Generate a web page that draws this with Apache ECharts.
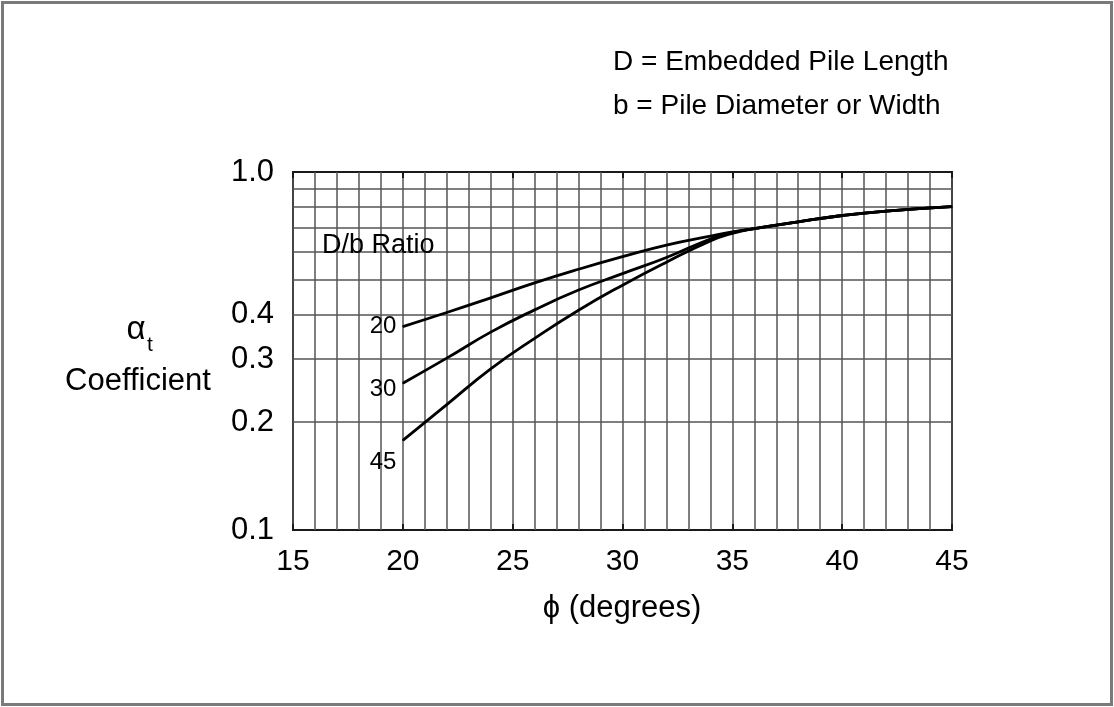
<!DOCTYPE html>
<html>
<head>
<meta charset="utf-8">
<title>Alpha_t coefficient vs friction angle</title>
<script src="https://cdn.jsdelivr.net/npm/echarts@6/dist/echarts.min.js"></script>
<style>
  html, body { margin: 0; padding: 0; background: #fff; }
  #chart { width: 1114px; height: 707px; }
</style>
</head>
<body>
<div id="chart"></div>
<script>
// Friction angle (degrees) at which each curve is sampled
const phiDeg = [20, 22, 24, 26, 28, 30, 32, 34, 35, 36, 38, 40, 42, 45];

// alpha_t coefficient for each D/b ratio
const coefDb20 = [0.370, 0.405, 0.445, 0.490, 0.535, 0.580, 0.625, 0.662, 0.680, 0.695, 0.726, 0.756, 0.778, 0.800];
const coefDb30 = [0.257, 0.302, 0.357, 0.412, 0.468, 0.520, 0.577, 0.650, 0.677, 0.695, 0.726, 0.756, 0.778, 0.800];
const coefDb45 = [0.178, 0.224, 0.282, 0.343, 0.411, 0.483, 0.560, 0.642, 0.674, 0.695, 0.726, 0.756, 0.778, 0.800];

const ratioNames = ['20', '30', '45'];

// Horizontal rulings of the log grid and the labelled coefficient values
const coefGridLines = [0.2, 0.3, 0.4, 0.5, 0.6, 0.7, 0.8, 0.9];
const coefTickLabels = [0.1, 0.2, 0.3, 0.4, 1.0];

const FONT = '"Liberation Sans", Arial, Helvetica, sans-serif';
const GRID_COLOR = '#555';

const chart = echarts.init(document.getElementById('chart'), null, { renderer: 'canvas' });

function curve(name, values, labelOffset) {
  return {
    name: name,
    type: 'line',
    z: 5,
    smooth: 0.5,
    symbol: 'circle',
    symbolSize: 1,
    itemStyle: { color: '#000' },
    lineStyle: { color: '#000', width: 2.8 },
    emphasis: { disabled: true },
    data: phiDeg.map((p, i) => {
      const item = { value: [p, values[i]] };
      if (i === 0) {
        item.label = {
          show: true,
          position: 'left',
          distance: 6,
          offset: labelOffset,
          formatter: name,
          color: '#000',
          fontFamily: FONT,
          fontSize: 24
        };
      }
      return item;
    })
  };
}

const option = {
  animation: false,
  backgroundColor: '#fff',
  grid: {
    left: 293, top: 172, width: 659, height: 358,
    show: true,
    borderColor: '#1a1a1a',
    borderWidth: 2,
    backgroundColor: 'transparent'
  },
  xAxis: [
    {
      type: 'value',
      min: 15, max: 45, interval: 5,
      position: 'bottom',
      axisLine: { show: false },
      axisTick: { show: true, inside: true, length: 6, lineStyle: { color: '#1a1a1a', width: 2 } },
      minorTick: { show: false, splitNumber: 5 },
      splitLine: { show: true, lineStyle: { color: GRID_COLOR, width: 1.5 } },
      minorSplitLine: { show: true, lineStyle: { color: GRID_COLOR, width: 1.5 } },
      axisLabel: { color: '#000', fontFamily: FONT, fontSize: 30, margin: 17 }
    },
    {
      type: 'value',
      min: 15, max: 45, interval: 5,
      position: 'top',
      axisLine: { show: false },
      axisTick: { show: true, inside: true, length: 6, lineStyle: { color: '#1a1a1a', width: 2 } },
      splitLine: { show: false },
      axisLabel: { show: false }
    }
  ],
  yAxis: {
    type: 'log',
    logBase: 10,
    min: 0.1, max: 1.0,
    axisLine: { show: false },
    axisTick: { show: false },
    splitLine: { show: false },
    axisLabel: {
      customValues: coefTickLabels,
      formatter: v => Number(v).toFixed(1),
      color: '#000', fontFamily: FONT, fontSize: 31, margin: 19
    }
  },
  series: [
    {
      name: 'grid',
      type: 'line',
      z: 1,
      data: [],
      silent: true,
      markLine: {
        silent: true,
        symbol: ['none', 'none'],
        label: { show: false },
        lineStyle: { color: GRID_COLOR, width: 1.5, type: 'solid' },
        emphasis: { disabled: true },
        data: coefGridLines.map(v => ({ yAxis: v }))
      }
    },
    curve(ratioNames[0], coefDb20, [0, 0]),
    curve(ratioNames[1], coefDb30, [0, 6]),
    curve(ratioNames[2], coefDb45, [0, 22])
  ],
  graphic: [
    {
      type: 'rect',
      shape: { x: 2.5, y: 2.5, width: 1109, height: 702 },
      style: { fill: 'none', stroke: '#7a7a7a', lineWidth: 3 },
      z: 10
    },
    {
      type: 'text',
      style: { text: 'D = Embedded Pile Length', x: 613, y: 62, font: '28px ' + FONT, fill: '#000', textVerticalAlign: 'middle' }
    },
    {
      type: 'text',
      style: { text: 'b = Pile Diameter or Width', x: 613, y: 106, font: '28px ' + FONT, fill: '#000', textVerticalAlign: 'middle' }
    },
    {
      type: 'text',
      z: 6,
      style: { text: 'D/b Ratio', x: 322, y: 246, font: '27px ' + FONT, fill: '#000', textVerticalAlign: 'middle' }
    },
    {
      type: 'text',
      style: { text: 'α', x: 136, y: 330, font: '33px ' + FONT, fill: '#000', textAlign: 'center', textVerticalAlign: 'middle' }
    },
    {
      type: 'text',
      style: { text: 't', x: 150, y: 345, font: '21px ' + FONT, fill: '#000', textAlign: 'center', textVerticalAlign: 'middle' }
    },
    {
      type: 'text',
      style: { text: 'Coefficient', x: 138, y: 381, font: '31px ' + FONT, fill: '#000', textAlign: 'center', textVerticalAlign: 'middle' }
    },
    {
      type: 'text',
      style: { text: 'ϕ (degrees)', x: 622, y: 608, font: '31px ' + FONT, fill: '#000', textAlign: 'center', textVerticalAlign: 'middle' }
    }
  ]
};

chart.setOption(option);
</script>
</body>
</html>
